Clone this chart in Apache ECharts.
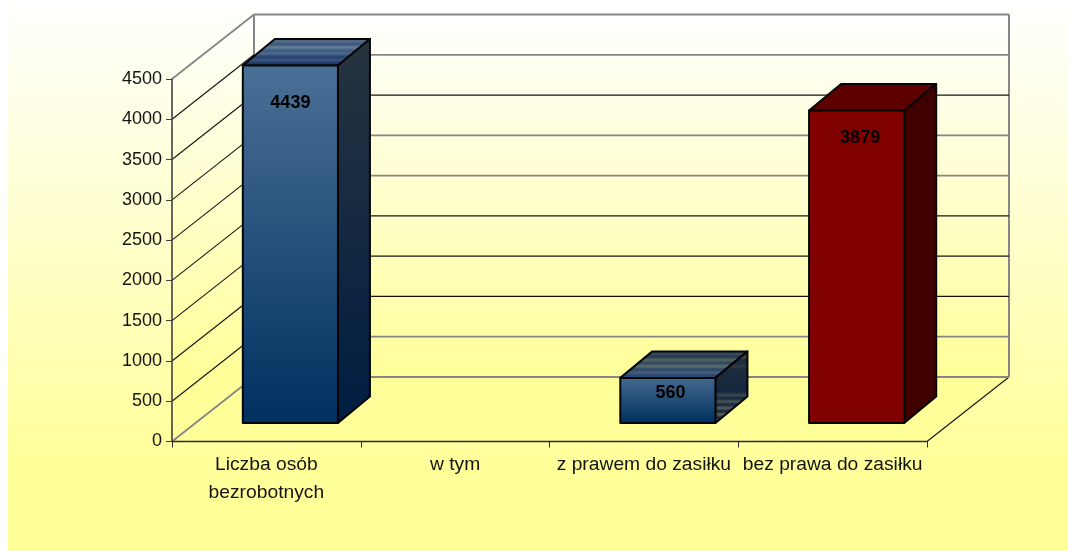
<!DOCTYPE html>
<html>
<head>
<meta charset="utf-8">
<style>html,body{margin:0;padding:0;background:#fff}#c{width:1068px;height:551px}</style>
<script src="https://cdn.jsdelivr.net/npm/echarts@6/dist/echarts.min.js"></script>
</head>
<body>
<div id="c"></div>
<script>
const categories = ['Liczba osób bezrobotnych', 'w tym', 'z prawem do zasiłku', 'bez prawa do zasiłku'];
const values = [4439, null, 560, 3879];
const yTicks = [0, 500, 1000, 1500, 2000, 2500, 3000, 3500, 4000, 4500];

// ---- styling below, no data ----
const FONT = '"Liberation Sans", Arial, sans-serif';
const WALL_DX = 82, WALL_DY = -64.5;      // depth of the 3D box
const BAR_FRONT_DX = 24, BAR_FRONT_DY = -18.5; // bar front plane inside the box
const BAR_DX = 32, BAR_DY = -26.5;      // bar depth
const GRAY_BACK = new Set([0, 500, 2500, 3000, 4000, 4500]);
const GRAY = '#868686', INK = '#141414';

function blend(colors) {
  return {
    type: 'linear', x: 0, y: 0, x2: 0, y2: 1,
    colorStops: colors.map((c, i) => ({offset: i / (colors.length - 1), color: c}))
  };
}
const barStyles = {
  0: {
    front: blend(['#4b7096', '#00305f']),
    top: blend(['#2e4055', '#55708c', '#3a5578', '#667f96', '#3b5a80', '#4d6a8c', '#25406a', '#3a5580', '#1c3868', '#29436f']),
    side: blend(['#27343f', '#001d42']),
    label: [0, 37.5]
  },
  2: {
    front: blend(['#44698f', '#00305f']),
    top: blend(['#22344a', '#3a4e60', '#24384e', '#55675f', '#2c4660', '#5a6f6c', '#2a4668', '#46607a', '#264470', '#2f4f7c']),
    side: blend(['#243240', '#1f2d3c', '#3f4b4c', '#1e2c3c', '#1d2b3c', '#2e3a44', '#1c2a3c', '#1b2a3d', '#1a293d', '#19283d',
      '#18283d', '#17273d', '#17273e', '#16263e', '#3d4a50', '#15253e', '#4a5754', '#14243e', '#55605a', '#12243f',
      '#5a6558', '#102340', '#5f6a5c', '#0e2242']),
    label: [2.6, 15.5]
  },
  3: {
    front: '#800000',
    top: '#5f0000',
    side: '#3f0000',
    label: [3.5, 27.5]
  }
};

function poly(points, fill, stroke, lw) {
  return {
    type: 'polygon',
    shape: {points},
    style: {fill, stroke: stroke || 'none', lineWidth: lw || 0, lineJoin: 'round'}
  };
}
function line(x1, y1, x2, y2, stroke, lw) {
  return {type: 'line', shape: {x1, y1, x2, y2}, style: {stroke, lineWidth: lw}};
}

function renderFrame(params) {
  const cs = params.coordSys;
  const L = cs.x, R = cs.x + cs.width, T = cs.y, B = cs.y + cs.height;
  const wallFill = {
    type: 'linear', global: true, x: 0, y: T + WALL_DY, x2: 0, y2: B + WALL_DY,
    colorStops: [{offset: 0, color: '#ffffff'}, {offset: 1, color: '#ffff99'}]
  };
  return {
    type: 'group',
    children: [
      poly([[L, T], [L + WALL_DX, T + WALL_DY], [L + WALL_DX, B + WALL_DY], [L, B]], wallFill),
      poly([[L + WALL_DX, T + WALL_DY], [R + WALL_DX, T + WALL_DY], [R + WALL_DX, B + WALL_DY], [L + WALL_DX, B + WALL_DY]], wallFill),
      poly([[L, B], [L + WALL_DX, B + WALL_DY], [R + WALL_DX, B + WALL_DY], [R, B]], '#ffff99'),
      line(R, B, R + WALL_DX, B + WALL_DY, INK, 1.1),
      line(L + WALL_DX, T + WALL_DY, L + WALL_DX, B + WALL_DY, GRAY, 2),
      line(R + WALL_DX, T + WALL_DY, R + WALL_DX, B + WALL_DY, GRAY, 2)
    ]
  };
}

function renderGridline(params, api) {
  const cs = params.coordSys;
  const v = api.value(1);
  const y = api.coord([0, v])[1];
  const L = cs.x, R = cs.x + cs.width;
  const backGray = GRAY_BACK.has(v);
  const sideGray = v === 0 || v === 4500;
  return {
    type: 'group',
    children: [
      line(L, y, L + WALL_DX, y + WALL_DY, sideGray ? GRAY : INK, sideGray ? 1.8 : 1.1),
      line(L + WALL_DX, y + WALL_DY, R + WALL_DX, y + WALL_DY, backGray ? GRAY : INK, backGray ? 1.8 : 1.2)
    ]
  };
}

function renderBar(params, api) {
  const idx = api.value(0), v = api.value(1);
  if (isNaN(v)) return null;
  const st = barStyles[idx];
  const w = api.size([1, 0])[0] * 0.504;
  const c = api.coord([idx, v]);
  const base = api.coord([idx, 0]);
  const x0 = c[0] - w / 2 + BAR_FRONT_DX, x1 = x0 + w;
  const yt = c[1] + BAR_FRONT_DY, yb = base[1] + BAR_FRONT_DY;
  const edge = '#050505', lw = 2;
  return {
    type: 'group',
    children: [
      poly([[x0, yt], [x0 + BAR_DX, yt + BAR_DY], [x1 + BAR_DX, yt + BAR_DY], [x1, yt]], st.top, edge, lw),
      poly([[x1, yt], [x1 + BAR_DX, yt + BAR_DY], [x1 + BAR_DX, yb + BAR_DY], [x1, yb]], st.side, edge, lw),
      poly([[x0, yt], [x1, yt], [x1, yb], [x0, yb]], st.front, edge, lw),
      {
        type: 'text',
        style: {
          x: (x0 + x1) / 2 + st.label[0], y: yt + st.label[1],
          text: String(v), fill: '#000', align: 'center', verticalAlign: 'middle',
          font: 'bold 18px ' + FONT
        }
      }
    ]
  };
}

const chart = echarts.init(document.getElementById('c'), null, {renderer: 'canvas', width: 1068, height: 551});
chart.setOption({
  animation: false,
  backgroundColor: '#ffffff',
  textStyle: {fontFamily: FONT},
  graphic: [{
    type: 'rect', z: -10, silent: true,
    shape: {x: 8, y: 0, width: 1060, height: 551},
    style: {
      fill: {type: 'linear', x: 0, y: 0, x2: 0, y2: 1,
        colorStops: [{offset: 0, color: '#ffffff'}, {offset: 0.85, color: '#ffff99'}, {offset: 1, color: '#ffff99'}]}
    }
  }],
  grid: {left: 172, right: 141, top: 79, bottom: 109.5, containLabel: false},
  xAxis: {
    type: 'category',
    data: categories,
    z: 10,
    axisLine: {lineStyle: {color: '#2a2a2a', width: 1.4}},
    axisTick: {show: true, length: 6, alignWithLabel: false, lineStyle: {color: '#2a2a2a', width: 1}},
    axisLabel: {
      interval: 0, margin: 9,
      formatter: s => s.replace('osób ', 'osób\n'),
      color: '#141414', fontSize: 19.25, lineHeight: 28, fontFamily: FONT
    }
  },
  yAxis: {
    type: 'value',
    min: 0, max: 4500, interval: 500,
    z: 10,
    splitLine: {show: false},
    axisLine: {show: true, lineStyle: {color: '#404040', width: 1.6}},
    axisTick: {show: true, length: 6, lineStyle: {color: '#404040', width: 1}},
    axisLabel: {margin: 10, color: '#141414', fontSize: 18, fontFamily: FONT, formatter: v => String(v)}
  },
  series: [
    {type: 'custom', z: 1, silent: true, coordinateSystem: 'cartesian2d', clip: false, renderItem: renderFrame, data: [[0, 0]]},
    {type: 'custom', z: 2, silent: true, coordinateSystem: 'cartesian2d', clip: false, renderItem: renderGridline, data: yTicks.map(v => [0, v])},
    {type: 'custom', z: 3, silent: true, coordinateSystem: 'cartesian2d', clip: false, renderItem: renderBar, data: values.map((v, i) => [i, v])}
  ]
});
</script>
</body>
</html>
